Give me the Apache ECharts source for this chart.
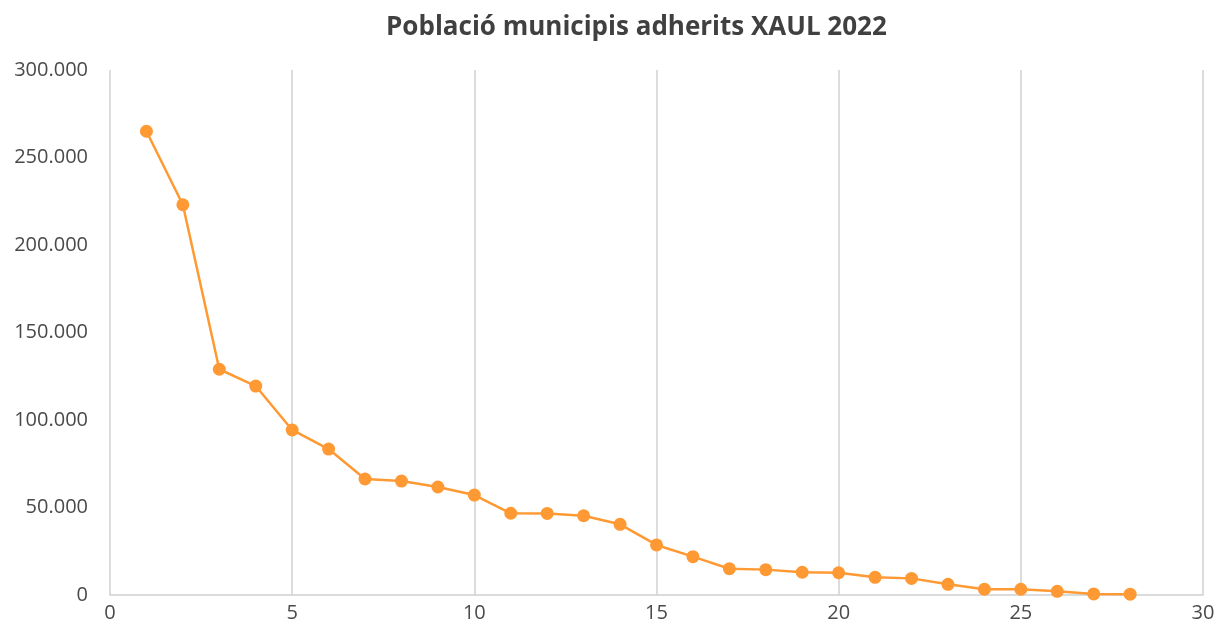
<!DOCTYPE html>
<html>
<head>
<meta charset="utf-8">
<script src="https://cdn.jsdelivr.net/npm/echarts@6/dist/echarts.min.js"></script>
<style>html,body{margin:0;padding:0;background:#fff}#c{width:1219px;height:637px}</style>
</head>
<body>
<div id="c"></div>
<script>
const titleText = 'Població municipis adherits XAUL 2022';
const positions = [1,2,3,4,5,6,7,8,9,10,11,12,13,14,15,16,17,18,19,20,21,22,23,24,25,26,27,28];
const population = [265000,223000,129000,119400,94300,83400,66300,65100,61700,57100,46700,46600,45300,40400,28600,21900,15000,14500,13000,12700,10100,9500,6100,3300,3300,2100,600,500];

const chart = echarts.init(document.getElementById('c'));
const fmt = v => String(v).replace(/\B(?=(\d{3})+(?!\d))/g, '.');
chart.setOption({
  animation: false,
  title: {
    text: titleText, left: 381, top: 10,
    textStyle: {fontFamily: 'Open Sans', fontWeight: 'bold', fontSize: 26, color: '#404040'}
  },
  grid: {left: 110, right: 16, top: 70, bottom: 42},
  xAxis: {
    type: 'value', min: 0, max: 30, interval: 5,
    axisLine: {show: true, lineStyle: {color: '#d0d0d0', width: 1.5}},
    axisTick: {show: false},
    axisLabel: {color: '#4a4a4a', fontSize: 20, fontFamily: 'Open Sans', margin: 8},
    splitLine: {show: true, lineStyle: {color: '#d0d0d0', width: 1.5}}
  },
  yAxis: {
    type: 'value', min: 0, max: 300000, interval: 50000,
    axisLine: {show: false}, axisTick: {show: false},
    axisLabel: {color: '#4a4a4a', fontSize: 20, fontFamily: 'Open Sans', margin: 22, formatter: fmt},
    splitLine: {show: false}
  },
  series: [{
    type: 'line',
    data: positions.map((p, i) => [p, population[i]]),
    symbol: 'circle', symbolSize: 13,
    lineStyle: {color: '#FF9933', width: 2.5},
    itemStyle: {color: '#FF9933'}
  }]
});
</script>
</body>
</html>
